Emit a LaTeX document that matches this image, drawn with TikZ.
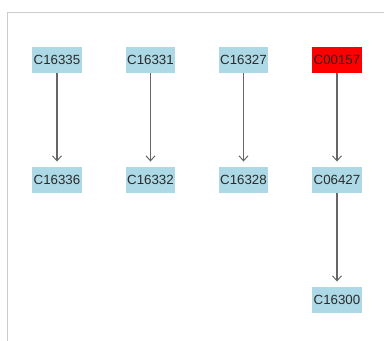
\documentclass[tikz,border=0pt]{standalone}
\usepackage{fontspec}
\setmainfont{Liberation Sans}
\usetikzlibrary{arrows.meta}
\definecolor{nodeblue}{HTML}{ADD8E6}
\definecolor{edgegray}{HTML}{666666}
\definecolor{framegray}{HTML}{CCCCCC}
\definecolor{txt}{HTML}{2A2A2A}
\tikzset{
  cpd/.style={fill=nodeblue, text=txt, font=\fontsize{13.3}{13.3}\selectfont, minimum width=49.5pt, minimum height=26.5pt, inner sep=0pt},
  hit/.style={cpd, fill=red, text=black!85},
  edge/.style={draw=edgegray, line width=1.1pt, -{Straight Barb[length=5pt,width=9pt,line width=1pt]}, shorten >=5pt},
}
\begin{document}
\begin{tikzpicture}[x=1pt,y=-1pt]
\useasboundingbox (0,0) rectangle (384,341);
\coordinate (ftop) at (384,12.5);
\coordinate (fcorner) at (7.5,12.5);
\coordinate (fbot) at (7.5,341);
\draw[framegray, line width=1pt] (ftop) -- (fcorner) -- (fbot);
\node[cpd] (a1) at (57,60) {C16335};
\node[cpd] (b1) at (150.5,60) {C16331};
\node[cpd] (c1) at (243.5,60) {C16327};
\node[hit] (d1) at (337,60) {C00157};
\node[cpd] (a2) at (57,180) {C16336};
\node[cpd] (b2) at (150.5,180) {C16332};
\node[cpd] (c2) at (243.5,180) {C16328};
\node[cpd] (d2) at (337,180) {C06427};
\node[cpd] (d3) at (337,300) {C16300};
\draw[edge] (a1) -- (a2);
\draw[edge] (b1) -- (b2);
\draw[edge] (c1) -- (c2);
\draw[edge] (d1) -- (d2);
\draw[edge] (d2) -- (d3);
\end{tikzpicture}
\end{document}
